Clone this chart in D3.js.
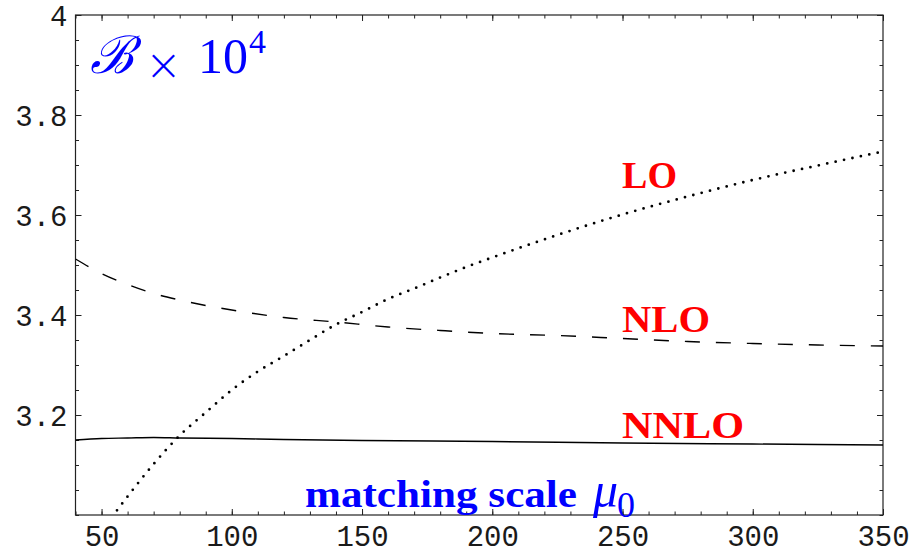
<!DOCTYPE html>
<html><head><meta charset="utf-8">
<script src="https://cdn.jsdelivr.net/npm/d3@7"></script>
<style>html,body{margin:0;padding:0;background:#fff;}svg{display:block;}</style>
</head><body>
<svg id="chart" width="914" height="555"></svg>
<script>
// Data
const xTickLabels = [50,100,150,200,250,300,350];
const yTickLabels = [3.2,3.4,3.6,3.8,4.0];
const loX   = [50,55,60,70,80,90,100,110,120,130,140,150,160,170,180,190,200,225,250,275,300,325,350];
const loY   = [2.968,3.003,3.037,3.102,3.159,3.205,3.250,3.287,3.318,3.350,3.381,3.406,3.432,3.453,3.475,3.496,3.515,3.560,3.601,3.637,3.670,3.699,3.727];
const nloX  = [40,50,60,70,80,90,100,120,140,160,180,200,225,250,275,300,325,350];
const nloY  = [3.512,3.483,3.461,3.443,3.430,3.419,3.410,3.395,3.386,3.376,3.369,3.363,3.359,3.353,3.347,3.343,3.340,3.338];
const nnloX = [40,50,60,70,80,100,120,150,200,250,300,350];
const nnloY = [3.150,3.153,3.154,3.155,3.154,3.153,3.151,3.149,3.147,3.144,3.142,3.140];
const seriesNames = ["LO","NLO","NNLO"];

const svg = d3.select("#chart");
const L = 75.5, R = 883, T = 15, B = 515;
const x = d3.scaleLinear().domain([40,350]).range([L,R]);
const y = d3.scaleLinear().domain([3.0,4.0]).range([B,T]);

svg.append("defs").append("clipPath").attr("id","clip")
  .append("rect").attr("x",L).attr("y",T).attr("width",R-L).attr("height",B-T);

const minorX = d3.range(40,351,10);
const minorY = d3.range(3.0,4.001,0.05).map(v=>+v.toFixed(2));

function styleAxis(g){
  g.select(".domain").remove();
  g.selectAll(".tick line").attr("stroke","#222").attr("stroke-width",1);
  g.selectAll(".tick text").attr("font-family","'Liberation Mono', 'DejaVu Sans Mono', monospace")
    .attr("font-size",29).attr("fill","#1a1a1a");
}
// bottom
const gb = svg.append("g").attr("transform",`translate(0,${B})`);
gb.call(d3.axisBottom(x).tickValues(minorX).tickSize(-3.5).tickFormat("")).call(styleAxis);
const gb2 = svg.append("g").attr("transform",`translate(0,${B})`);
gb2.call(d3.axisBottom(x).tickValues(xTickLabels).tickSize(-6).tickPadding(16).tickFormat(d3.format("d"))).call(styleAxis);
gb2.selectAll(".tick text").attr("dy",null).attr("y",31);
// top
svg.append("g").attr("transform",`translate(0,${T})`)
  .call(d3.axisTop(x).tickValues(minorX).tickSize(-3.5).tickFormat("")).call(styleAxis);
svg.append("g").attr("transform",`translate(0,${T})`)
  .call(d3.axisTop(x).tickValues(xTickLabels).tickSize(-6).tickFormat("")).call(styleAxis);
// left
svg.append("g").attr("transform",`translate(${L},0)`)
  .call(d3.axisLeft(y).tickValues(minorY).tickSize(-3.5).tickFormat("")).call(styleAxis);
const gl = svg.append("g").attr("transform",`translate(${L},0)`);
gl.call(d3.axisLeft(y).tickValues(yTickLabels).tickSize(-6).tickPadding(9)
  .tickFormat(d=> d===4 ? "4" : d3.format(".1f")(d))).call(styleAxis);
gl.selectAll(".tick text").attr("x",-8).attr("dy","0.36em");
// right
svg.append("g").attr("transform",`translate(${R},0)`)
  .call(d3.axisRight(y).tickValues(minorY).tickSize(-3.5).tickFormat("")).call(styleAxis);
svg.append("g").attr("transform",`translate(${R},0)`)
  .call(d3.axisRight(y).tickValues(yTickLabels).tickSize(-6).tickFormat("")).call(styleAxis);

// frame
svg.append("rect").attr("x",L).attr("y",T).attr("width",R-L).attr("height",B-T)
  .attr("fill","none").attr("stroke","#222").attr("stroke-width",1.2);

const line = d3.line().x(d=>x(d[0])).y(d=>y(d[1])).curve(d3.curveMonotoneX);
const plot = svg.append("g").attr("clip-path","url(#clip)");
plot.append("path").datum(d3.zip(nnloX,nnloY)).attr("d",line)
  .attr("fill","none").attr("stroke","#000").attr("stroke-width",1.4);
plot.append("path").datum(d3.zip(nloX,nloY)).attr("d",line)
  .attr("fill","none").attr("stroke","#000").attr("stroke-width",1.4).attr("stroke-dasharray","15,16");
plot.append("path").datum(d3.zip(loX,loY)).attr("d",line)
  .attr("fill","none").attr("stroke","#000").attr("stroke-width",2.8)
  .attr("stroke-linecap","round").attr("stroke-dasharray","0,8.6");

// series labels
const serif = "'Liberation Serif', 'Times New Roman', serif";
const labelPos = [[622,188,55],[622,332,88],[622,438,122]];
seriesNames.forEach((n,i)=>{
  svg.append("text").attr("x",labelPos[i][0]).attr("y",labelPos[i][1])
    .attr("font-family",serif).attr("font-weight","bold").attr("font-size",37)
    .attr("fill","#ff0000").attr("textLength",labelPos[i][2]).attr("lengthAdjust","spacingAndGlyphs").text(n);
});

// axis title
svg.append("text").attr("x",305).attr("y",507).attr("font-family",serif).attr("font-weight","bold")
  .attr("font-size",37).attr("fill","#0000ff").attr("textLength",272).attr("lengthAdjust","spacingAndGlyphs")
  .text("matching scale");
svg.append("text").attr("x",593).attr("y",507).attr("font-family",serif).attr("font-style","italic")
  .attr("font-size",50).attr("fill","#0000ff").text("μ");
svg.append("text").attr("x",617).attr("y",517).attr("font-family",serif)
  .attr("font-size",36).attr("fill","#0000ff").text("0");

// y title
svg.append("text").attr("x",90).attr("y",73).attr("font-family",serif).attr("fill","#0000ff")
  .attr("font-size",52).attr("font-style","italic").text("ℬ");
svg.append("text").attr("x",163.5).attr("y",80).attr("text-anchor","middle").attr("font-family","'DejaVu Sans', sans-serif")
  .attr("font-size",44).attr("font-weight","200").attr("fill","#0000ff").text("×");
svg.append("text").attr("x",198).attr("y",73).attr("font-family",serif).attr("fill","#0000ff")
  .attr("font-size",50).text("10");
svg.append("text").attr("x",249).attr("y",53).attr("font-family",serif).attr("fill","#0000ff")
  .attr("font-size",34).text("4");
</script>
</body></html>
